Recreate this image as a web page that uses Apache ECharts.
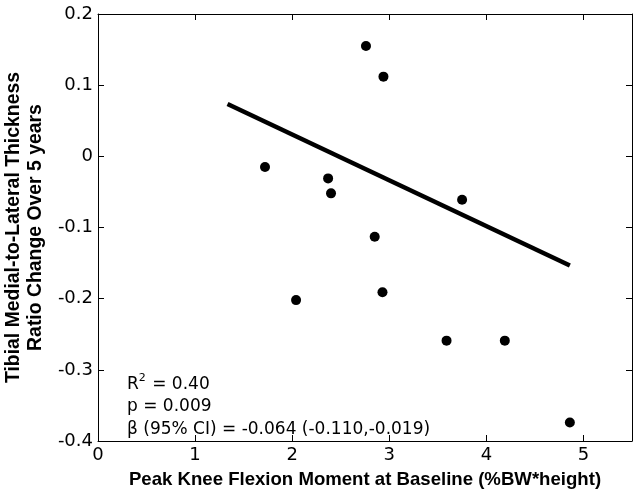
<!DOCTYPE html>
<html>
<head>
<meta charset="utf-8">
<script src="https://cdn.jsdelivr.net/npm/echarts@6/dist/echarts.min.js"></script>
<style>html,body{margin:0;padding:0;background:#fff;}#c{width:641px;height:498px;}</style>
</head>
<body>
<div id="c"></div>
<script>
var xValues = [1.72, 2.04, 2.37, 2.40, 2.76, 2.85, 2.94, 2.93, 3.75, 3.59, 4.19, 4.86];
var yValues = [-0.015, -0.202, -0.031, -0.052, 0.155, -0.113, 0.112, -0.191, -0.061, -0.259, -0.259, -0.374];
var fitX = [1.334, 4.86];
var fitY = [0.0735, -0.1535];
var xTicks = [0, 1, 2, 3, 4, 5];
var yTicks = [-0.4, -0.3, -0.2, -0.1, 0, 0.1, 0.2];
var statLines = ['R2', 'p = 0.009', 'β (95% CI) = -0.064 (-0.110,-0.019)'];

var chart = echarts.init(document.getElementById('c'), null, {renderer: 'canvas'});
var FONT = 'DejaVu Sans, sans-serif';
var TFONT = 'Liberation Sans, Arial, sans-serif';
var points = xValues.map(function (x, i) { return [x, yValues[i]]; });
var fit = fitX.map(function (x, i) { return [x, fitY[i]]; });

function baseAxis() {
  return {
    axisLine: {show: true, onZero: false, lineStyle: {color: '#000', width: 1}},
    axisTick: {show: true, inside: true, length: 6, lineStyle: {color: '#000'}},
    splitLine: {show: false}
  };
}

chart.setOption({
  animation: false,
  backgroundColor: '#fff',
  grid: {left: 98, right: 9, top: 14, bottom: 57, containLabel: false, outerBoundsMode: 'none'},
  xAxis: [
    Object.assign(baseAxis(), {
      type: 'value', min: 0, max: 5.5, interval: 1, position: 'bottom',
      name: 'Peak Knee Flexion Moment at Baseline (%BW*height)',
      nameLocation: 'middle', nameGap: 29,
      nameTextStyle: {fontFamily: TFONT, fontWeight: 'bold', fontSize: 18.6, color: '#000'},
      axisLabel: {fontFamily: FONT, fontSize: 18, color: '#000', margin: 5,
        formatter: function (v) { return xTicks.indexOf(v) >= 0 ? String(v) : ''; }}
    }),
    Object.assign(baseAxis(), {
      type: 'value', min: 0, max: 5.5, interval: 1, position: 'top',
      axisLabel: {show: false}
    })
  ],
  yAxis: [
    Object.assign(baseAxis(), {
      type: 'value', min: -0.4, max: 0.2, interval: 0.1, position: 'left',
      name: 'Tibial Medial-to-Lateral Thickness\nRatio Change Over 5 years',
      nameLocation: 'middle', nameGap: 50,
      nameTextStyle: {fontFamily: TFONT, fontWeight: 'bold', fontSize: 19.4, color: '#000', lineHeight: 22},
      axisLabel: {fontFamily: FONT, fontSize: 18, color: '#000', margin: 5,
        formatter: function (v) {
          var r = Math.round(v * 10) / 10;
          return yTicks.indexOf(r) >= 0 ? (r === 0 ? '0' : String(r)) : '';
        }}
    }),
    Object.assign(baseAxis(), {
      type: 'value', min: -0.4, max: 0.2, interval: 0.1, position: 'right',
      axisLabel: {show: false}
    })
  ],
  series: [
    {
      type: 'line', data: fit, xAxisIndex: 0, yAxisIndex: 0,
      showSymbol: false, symbol: 'none',
      lineStyle: {color: '#000', width: 4.5}, silent: true
    },
    {
      type: 'scatter', data: points, xAxisIndex: 0, yAxisIndex: 0,
      symbol: 'circle', symbolSize: 10,
      itemStyle: {color: '#000', opacity: 1}
    }
  ],
  graphic: [
    {
      type: 'text', left: 127, top: 373,
      style: {
        rich: {
          n: {fontFamily: FONT, fontSize: 17, fill: '#000', lineHeight: 22.5},
          s: {fontFamily: FONT, fontSize: 11, fill: '#000', verticalAlign: 'top', lineHeight: 22.5, padding: [0, 1, 9, 0]}
        },
        text: '{n|R}{s|2}{n| = 0.40}\n{n|' + statLines[1] + '}\n{n|' + statLines[2] + '}'
      }
    }
  ]
});
</script>
</body>
</html>
